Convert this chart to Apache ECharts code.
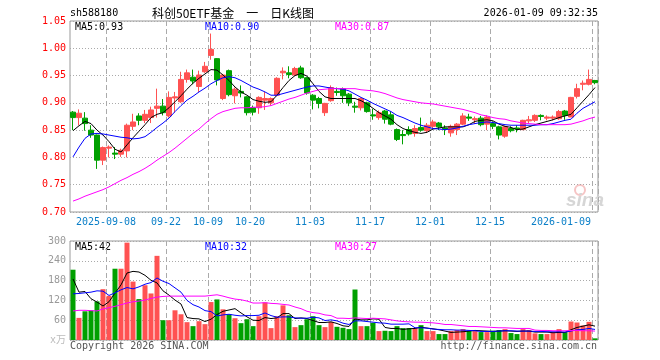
<!DOCTYPE html>
<html>
<head>
<meta charset="utf-8">
<script src="https://cdn.jsdelivr.net/npm/echarts@6/dist/echarts.min.js"></script>
<style>html,body{margin:0;padding:0;background:#fff}#c{width:660px;height:360px}</style>
</head>
<body>
<div id="c"></div>
<script>
const dates = [
'2025-08-29',
'2025-09-01','2025-09-02','2025-09-03','2025-09-04','2025-09-05',
'2025-09-08','2025-09-09','2025-09-10','2025-09-11','2025-09-12',
'2025-09-15','2025-09-16','2025-09-17','2025-09-18','2025-09-19',
'2025-09-22','2025-09-23','2025-09-24','2025-09-25','2025-09-26',
'2025-09-29','2025-09-30',
'2025-10-09','2025-10-10',
'2025-10-13','2025-10-14','2025-10-15','2025-10-16','2025-10-17',
'2025-10-20','2025-10-21','2025-10-22','2025-10-23','2025-10-24',
'2025-10-27','2025-10-28','2025-10-29','2025-10-30','2025-10-31',
'2025-11-03','2025-11-04','2025-11-05','2025-11-06','2025-11-07',
'2025-11-10','2025-11-11','2025-11-12','2025-11-13','2025-11-14',
'2025-11-17','2025-11-18','2025-11-19','2025-11-20','2025-11-21',
'2025-11-24','2025-11-25','2025-11-26','2025-11-27','2025-11-28',
'2025-12-01','2025-12-02','2025-12-03','2025-12-04','2025-12-05',
'2025-12-08','2025-12-09','2025-12-10','2025-12-11','2025-12-12',
'2025-12-15','2025-12-16','2025-12-17','2025-12-18','2025-12-19',
'2025-12-22','2025-12-23','2025-12-24','2025-12-25','2025-12-26',
'2025-12-29','2025-12-30','2025-12-31',
'2026-01-05','2026-01-06','2026-01-07','2026-01-08','2026-01-09'
];
const tickDates = ['2025-09-08','2025-09-22','2025-10-09','2025-10-20','2025-11-03','2025-11-17','2025-12-01','2025-12-15','2026-01-09'];
const tickTexts = ['2025-09-08','09-22','10-09','10-20','11-03','11-17','12-01','12-15','2026-01-09'];
const priceTicks = [0.70,0.75,0.80,0.85,0.90,0.95,1.00,1.05];
const volTicks = [0,60,120,180,240,300];

const opens = [0.883,0.873,0.872,0.850,0.841,0.795,0.817,0.808,0.806,0.812,
0.857,0.876,0.868,0.873,0.890,0.894,0.876,0.909,0.902,0.943,
0.947,0.930,0.957,0.987,0.981,0.908,0.959,0.913,0.921,0.911,
0.891,0.891,0.905,0.900,0.914,0.955,0.955,0.951,0.964,0.946,
0.914,0.908,0.882,0.904,0.921,0.926,0.916,0.894,0.891,0.900,
0.878,0.873,0.885,0.878,0.851,0.842,0.851,0.844,0.855,0.849,
0.857,0.863,0.854,0.845,0.851,0.861,0.874,0.869,0.872,0.861,
0.862,0.856,0.839,0.853,0.854,0.851,0.867,0.868,0.877,0.872,
0.872,0.871,0.885,0.874,0.912,0.934,0.934,0.941];
const closes = [0.873,0.881,0.862,0.841,0.795,0.818,0.819,0.806,0.813,0.859,
0.865,0.868,0.879,0.887,0.894,0.882,0.910,0.911,0.943,0.955,
0.940,0.951,0.967,0.998,0.942,0.951,0.915,0.925,0.918,0.882,
0.883,0.910,0.908,0.908,0.945,0.958,0.952,0.963,0.946,0.918,
0.905,0.899,0.899,0.928,0.919,0.913,0.900,0.892,0.908,0.884,
0.876,0.882,0.870,0.861,0.833,0.840,0.843,0.853,0.850,0.859,
0.865,0.856,0.852,0.857,0.861,0.876,0.872,0.871,0.860,0.874,
0.857,0.841,0.856,0.849,0.852,0.868,0.869,0.877,0.875,0.874,
0.874,0.884,0.877,0.910,0.926,0.936,0.943,0.937];
const lows = [0.850,0.859,0.849,0.836,0.779,0.786,0.800,0.797,0.801,0.800,
0.850,0.859,0.863,0.863,0.873,0.877,0.873,0.882,0.900,0.937,
0.934,0.920,0.955,0.979,0.932,0.905,0.912,0.899,0.910,0.877,
0.877,0.880,0.887,0.895,0.912,0.943,0.945,0.949,0.944,0.915,
0.888,0.890,0.876,0.902,0.913,0.900,0.894,0.882,0.886,0.882,
0.869,0.869,0.862,0.859,0.830,0.824,0.840,0.838,0.847,0.845,
0.853,0.850,0.841,0.838,0.841,0.859,0.867,0.862,0.857,0.850,
0.852,0.833,0.836,0.846,0.846,0.850,0.862,0.865,0.868,0.868,
0.868,0.869,0.869,0.874,0.908,0.923,0.932,0.934];
const highs = [0.885,0.888,0.883,0.859,0.842,0.820,0.822,0.819,0.816,0.862,
0.880,0.881,0.887,0.893,0.926,0.907,0.921,0.920,0.957,0.961,
0.961,0.959,0.975,1.027,0.982,0.953,0.961,0.928,0.932,0.912,
0.895,0.912,0.920,0.910,0.947,0.965,0.967,0.966,0.968,0.947,
0.916,0.911,0.900,0.932,0.928,0.928,0.918,0.902,0.910,0.902,
0.889,0.886,0.887,0.884,0.853,0.850,0.857,0.859,0.873,0.863,
0.869,0.865,0.859,0.860,0.863,0.881,0.880,0.875,0.876,0.877,
0.866,0.858,0.858,0.857,0.859,0.869,0.876,0.879,0.879,0.877,
0.877,0.887,0.887,0.911,0.935,0.941,0.961,0.942];

const ma5 = [0.849,0.858,0.866,0.862,0.850,0.841,0.829,0.815,0.810,0.823,
0.836,0.848,0.860,0.873,0.879,0.882,0.891,0.902,0.913,0.925,
0.936,0.945,0.953,0.961,0.960,0.951,0.941,0.929,0.920,0.914,
0.906,0.903,0.901,0.902,0.914,0.928,0.941,0.950,0.954,0.949,
0.935,0.921,0.911,0.908,0.908,0.908,0.908,0.908,0.904,0.898,
0.890,0.882,0.876,0.870,0.860,0.853,0.849,0.846,0.844,0.846,
0.852,0.854,0.856,0.856,0.856,0.856,0.860,0.866,0.868,0.869,
0.867,0.861,0.857,0.855,0.851,0.852,0.856,0.860,0.863,0.866,
0.869,0.873,0.876,0.879,0.891,0.903,0.915,0.928];
const ma10 = [0.801,0.819,0.835,0.843,0.844,0.843,0.841,0.839,0.837,0.836,
0.834,0.835,0.838,0.846,0.855,0.863,0.872,0.884,0.895,0.905,
0.912,0.920,0.927,0.935,0.941,0.946,0.948,0.946,0.941,0.935,
0.929,0.925,0.920,0.914,0.914,0.917,0.920,0.923,0.926,0.929,
0.931,0.931,0.929,0.927,0.926,0.925,0.922,0.916,0.910,0.905,
0.899,0.894,0.889,0.884,0.877,0.873,0.868,0.863,0.859,0.856,
0.853,0.852,0.851,0.852,0.854,0.857,0.860,0.862,0.864,0.865,
0.864,0.862,0.860,0.859,0.859,0.859,0.859,0.859,0.860,0.860,
0.862,0.865,0.868,0.870,0.881,0.890,0.896,0.902];
const ma30 = [0.720,0.724,0.729,0.733,0.737,0.741,0.746,0.752,0.758,0.763,
0.769,0.774,0.780,0.787,0.795,0.802,0.809,0.817,0.826,0.835,
0.844,0.852,0.862,0.871,0.879,0.884,0.887,0.890,0.891,0.891,
0.892,0.892,0.893,0.895,0.899,0.903,0.907,0.910,0.914,0.918,
0.921,0.924,0.925,0.926,0.926,0.926,0.926,0.926,0.924,0.923,
0.922,0.920,0.917,0.913,0.909,0.906,0.904,0.902,0.900,0.899,
0.898,0.896,0.894,0.892,0.890,0.888,0.885,0.882,0.878,0.876,
0.873,0.871,0.870,0.867,0.865,0.863,0.862,0.861,0.860,0.860,
0.860,0.860,0.860,0.861,0.864,0.867,0.871,0.874];

const volumes = [213,67,87,90,117,154,134,216,216,295,
177,124,166,141,255,60,60,90,78,54,
42,57,48,115,123,93,78,66,51,63,
42,72,114,36,72,105,75,39,45,63,
72,45,39,55,40,37,33,153,42,42,
52,27,28,27,42,36,36,36,45,27,
27,18,18,27,30,33,27,27,24,24,
28,30,33,21,18,33,30,20,18,18,
24,33,24,56,53,44,55,5];
const vma5 = [185,145,147,125,115,103,116,142,167,203,
208,206,196,181,173,149,136,121,109,68,
65,64,56,63,77,87,91,95,82,70,
60,59,68,65,67,80,80,65,67,65,
59,53,53,55,50,43,41,64,61,61,
64,63,38,35,35,32,34,35,39,36,
34,31,27,23,24,25,27,29,28,27,
26,27,28,27,26,27,27,24,24,24,
22,23,23,31,38,42,46,42];
const vma10 = [140,141,143,145,149,148,135,143,152,159,
155,161,169,174,188,178,171,158,145,120,
107,100,89,86,73,76,78,75,73,74,
74,75,82,74,69,70,70,67,66,66,
69,67,59,61,58,51,47,58,58,56,
54,52,51,48,48,48,49,37,37,36,
33,32,31,31,30,30,29,28,26,26,
26,27,28,28,27,27,27,26,26,25,
25,25,24,27,31,32,35,32];
const vma30 = [88,90,90,89,88,94,98,102,107,112,
116,118,121,126,130,132,133,133,133,133,
133,133,133,135,137,133,128,124,122,118,
112,112,113,111,110,108,106,100,95,87,
83,81,76,74,66,66,65,67,66,65,
66,65,64,61,58,56,55,54,54,53,
52,50,47,47,45,43,41,41,40,39,
38,37,37,36,35,35,35,30,29,29,
28,28,28,29,29,28,28,27];

const UP = '#ff5252', DOWN = '#00a000';
const MONO = 'DejaVu Sans Mono, Noto Sans CJK SC, monospace';

const ohlc = dates.map((d, i) => [opens[i], closes[i], lows[i], highs[i]]);
const volData = volumes.map((v, i) => ({value: v, itemStyle: {color: closes[i] >= opens[i] ? UP : DOWN}}));
const isTick = (idx, val) => tickDates.indexOf(val) >= 0;
const last = dates.length - 1;

const chart = echarts.init(document.getElementById('c'), null, {renderer: 'canvas'});

function xAxisFor(g, withLabels) {
  return {
    type: 'category', gridIndex: g, data: dates, boundaryGap: true,
    axisLine: {show: false}, axisTick: {show: false},
    axisLabel: withLabels ? {
      show: true, interval: isTick, hideOverlap: false, margin: 5,
      color: '#0a7fc8', fontFamily: MONO, fontSize: 10,
      formatter: function (value) {
        const k = tickDates.indexOf(value);
        if (k < 0) return '';
        return (k === tickDates.length - 1 ? '{e|' : '{a|') + tickTexts[k] + '}';
      },
      rich: {
        a: {padding: [0, 6, 0, 0], color: '#0a7fc8', fontFamily: MONO, fontSize: 10},
        e: {padding: [0, 68, 0, 0], color: '#0a7fc8', fontFamily: MONO, fontSize: 10}
      }
    } : {show: false},
    splitLine: {show: true, interval: isTick, lineStyle: {color: '#aaaaaa', width: 1, type: [5, 3]}}
  };
}

const lineS = (name, data, color, xi, yi) => ({
  name, type: 'line', data, xAxisIndex: xi, yAxisIndex: yi, symbol: 'none', smooth: false,
  lineStyle: {color, width: 1}, itemStyle: {color}, z: 5, silent: true
});

const txt = (x, y, text, fill, opts) => Object.assign({
  type: 'text', x, y, silent: true,
  style: {text, fill, font: '10px ' + MONO, textAlign: 'left', textVerticalAlign: 'middle'}
}, opts || {});

const option = {
  animation: false,
  backgroundColor: '#ffffff',
  grid: [
    {left: 70, top: 21, width: 528, height: 191, show: true, borderColor: '#999999', borderWidth: 1},
    {left: 70, top: 241, width: 528, height: 99, show: true, borderColor: '#999999', borderWidth: 1}
  ],
  xAxis: [xAxisFor(0, true), xAxisFor(1, false)],
  yAxis: [
    {type: 'value', gridIndex: 0, min: priceTicks[0], max: priceTicks[priceTicks.length - 1], interval: 0.05,
     axisLine: {show: false}, axisTick: {show: false},
     axisLabel: {color: '#ff0000', fontFamily: MONO, fontSize: 10, margin: 4, formatter: v => v.toFixed(2)},
     splitLine: {lineStyle: {color: '#aaaaaa', width: 1, type: [1, 2]}}},
    {type: 'value', gridIndex: 1, min: volTicks[0], max: volTicks[volTicks.length - 1], interval: 60,
     axisLine: {show: false}, axisTick: {show: false},
     axisLabel: {color: '#999999', fontFamily: MONO, fontSize: 10, margin: 4,
       formatter: v => v === 0 ? '{u|x万}' : String(v),
       rich: {u: {color: '#bbbbbb', fontFamily: MONO, fontSize: 10}}},
     splitLine: {lineStyle: {color: '#aaaaaa', width: 1, type: [1, 2]}}}
  ],
  series: [
    {type: 'candlestick', xAxisIndex: 0, yAxisIndex: 0, data: ohlc, barWidth: 5,
     itemStyle: {color: UP, color0: DOWN, borderColor: UP, borderColor0: DOWN, borderWidth: 1}, z: 3, silent: true},
    lineS('MA5', ma5, '#000000', 0, 0),
    lineS('MA10', ma10, '#0000ff', 0, 0),
    lineS('MA30', ma30, '#ff00ff', 0, 0),
    {type: 'bar', xAxisIndex: 1, yAxisIndex: 1, data: volData, barWidth: 5, z: 3, silent: true},
    lineS('VMA5', vma5, '#000000', 1, 1),
    lineS('VMA10', vma10, '#0000ff', 1, 1),
    lineS('VMA30', vma30, '#ff00ff', 1, 1)
  ],
  graphic: [
    txt(70, 13, 'sh588180', '#000'),
    {type: 'text', x: 152, y: 13, silent: true,
     style: {text: '科创50ETF基金\u2002\u2002一\u2002\u2002日K线图', fill: '#000', font: '12px Noto Sans CJK SC', textAlign: 'left', textVerticalAlign: 'middle'}},
    {type: 'text', x: 598, y: 13, silent: true,
     style: {text: '2026-01-09 09:32:35', fill: '#000', font: '10px ' + MONO, textAlign: 'right', textVerticalAlign: 'middle'}},
    txt(75, 27, 'MA5:' + ma5[last].toFixed(2), '#000000'),
    txt(205, 27, 'MA10:' + ma10[last].toFixed(2), '#0000ff'),
    txt(335, 27, 'MA30:' + ma30[last].toFixed(2), '#ff00ff'),
    txt(75, 247, 'MA5:' + vma5[last], '#000000'),
    txt(205, 247, 'MA10:' + vma10[last], '#0000ff'),
    txt(335, 247, 'MA30:' + vma30[last], '#ff00ff'),
    txt(70, 346, 'Copyright 2026 SINA.COM', '#555555'),
    {type: 'text', x: 597, y: 346, silent: true,
     style: {text: 'http://finance.sina.com.cn', fill: '#555555', font: '10px ' + MONO, textAlign: 'right', textVerticalAlign: 'middle'}},
    {type: 'circle', shape: {cx: 580, cy: 190, r: 5}, silent: true,
     style: {fill: 'none', stroke: '#f6c4c4', lineWidth: 2}},
    {type: 'text', x: 566, y: 201, silent: true,
     style: {text: 'sina', fill: '#d6d6d6', font: 'italic bold 19px Liberation Sans', textAlign: 'left', textVerticalAlign: 'middle'}}
  ]
};
chart.setOption(option);
</script>
</body>
</html>
